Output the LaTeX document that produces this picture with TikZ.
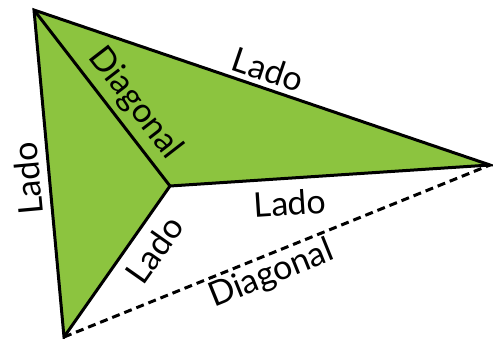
\documentclass[tikz,border=0pt]{standalone}
\usepackage{fontspec}
\setmainfont{Lato}
\usepackage{xcolor}
\usepackage{tikz}
\definecolor{leafgreen}{HTML}{8CC43F}

\begin{document}
\begin{tikzpicture}[
  x=1pt, y=-1pt,
  side/.style={line width=3pt, line join=miter},
  diag/.style={line width=3pt, dash pattern=on 8pt off 5pt},
  tag/.style={font=\fontsize{34}{38}\selectfont, inner sep=1pt, sloped},
]
  \useasboundingbox (0,0) rectangle (493,338);

  % -- vertices of the dart --
  \coordinate (apex) at (34,10);
  \coordinate (tip) at (490,165);
  \coordinate (notch) at (170,186);
  \coordinate (foot) at (64,337);

  % -- fill and sides --
  \fill[leafgreen] (apex) -- (tip) -- (notch) -- (foot) -- cycle;
  \draw[diag] (foot) -- (tip);
  \draw[side] (apex) -- (tip) -- (notch) -- (foot) -- cycle;
  \draw[side] (apex) -- (notch);

  % -- labels --
  \path (apex) -- node[tag, pos=0.5, above=5pt] (ladoa) {Lado} (tip);
  \path (apex) -- node[tag, pos=0.61, above=6pt] (diaga) {Diagonal} (notch);
  \path (foot) -- node[tag, allow upside down, pos=0.49, above=8pt] (ladob) {Lado} (apex);
  \path (notch) -- node[tag, pos=0.37, below=11pt] (ladoc) {Lado} (tip);
  \path (foot) -- node[tag, pos=0.67, below=10pt] (ladod) {Lado} (notch);
  \path (foot) -- node[tag, pos=0.47, below=3pt] (diagb) {Diagonal} (tip);

\end{tikzpicture}
\end{document}
